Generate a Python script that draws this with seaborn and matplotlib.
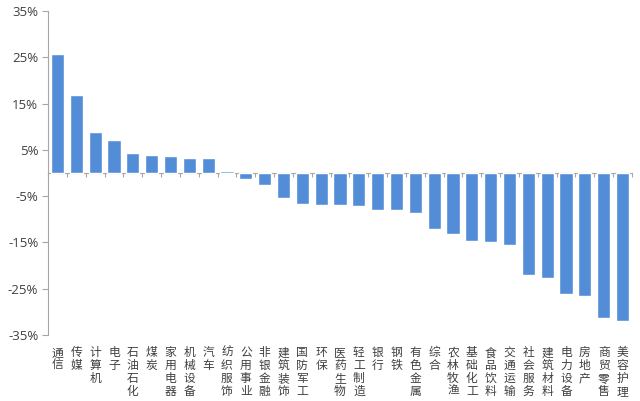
import numpy as np
import pandas as pd
import matplotlib
matplotlib.use("Agg")
import matplotlib.pyplot as plt
import matplotlib.transforms as mtransforms
import seaborn as sns

# --- DATA ---
categories = [
    "通信", "传媒", "计算机", "电子", "石油石化", "煤炭", "家用电器", "机械设备",
    "汽车", "纺织服饰", "公用事业", "非银金融", "建筑装饰", "国防军工", "环保",
    "医药生物", "轻工制造", "银行", "钢铁", "有色金属", "综合", "农林牧渔",
    "基础化工", "食品饮料", "交通运输", "社会服务", "建筑材料", "电力设备",
    "房地产", "商贸零售", "美容护理",
]
returns = [
    25.6, 16.8, 8.9, 7.1, 4.25, 3.95, 3.7, 3.25,
    3.2, 0.35, -1.2, -2.7, -5.4, -6.7, -7.0,
    -7.0, -7.2, -7.9, -8.1, -8.7, -12.2, -13.1,
    -14.7, -14.9, -15.6, -22.1, -22.7, -26.2,
    -26.5, -31.3, -32.0,
]
y_ticks = [-35, -25, -15, -5, 5, 15, 25, 35]

BAR_COLOR = "#538DD7"
AXIS_COLOR = "#A6A6A6"
TEXT_COLOR = "#404040"


def main():
    sns.set_style("white")
    plt.rcParams["font.family"] = ["Noto Sans CJK SC", "DejaVu Sans"]

    df = pd.DataFrame({"industry": categories, "ret": returns})

    fig = plt.figure(figsize=(6.4, 4.01), dpi=100)
    ax = fig.add_axes([0.075, 0.1646, 0.9125, 0.808])

    sns.barplot(data=df, x="industry", y="ret", color=BAR_COLOR,
                width=0.7, saturation=1, ax=ax, zorder=3)

    n = len(categories)
    ax.set_xlim(-0.5, n - 0.5)
    ax.set_ylim(-35, 35)
    ax.set_xlabel("")
    ax.set_ylabel("")

    # y axis
    ax.set_yticks(y_ticks)
    ax.set_yticklabels([f"{v}%" for v in y_ticks], fontsize=9.5,
                       color=TEXT_COLOR, family=["Open Sans", "DejaVu Sans"])
    ax.tick_params(axis="y", direction="out", length=4, width=0.8,
                   color=AXIS_COLOR, pad=3, left=True)

    # x axis sits at zero with small ticks between bars
    for s in ["top", "right"]:
        ax.spines[s].set_visible(False)
    ax.spines["left"].set_color(AXIS_COLOR)
    ax.spines["left"].set_linewidth(0.8)
    ax.spines["bottom"].set_position(("data", 0))
    ax.spines["bottom"].set_color(AXIS_COLOR)
    ax.spines["bottom"].set_linewidth(0.8)
    ax.spines["bottom"].set_zorder(2)
    ax.set_xticks(np.arange(n + 1) - 0.5, minor=True)
    ax.set_xticks(np.arange(n))
    ax.set_xticklabels([])
    ax.tick_params(axis="x", which="major", length=0)
    ax.tick_params(axis="x", which="minor", direction="out", length=3,
                   width=0.8, color=AXIS_COLOR, bottom=True)

    # vertical stacked labels below the plot
    trans = mtransforms.blended_transform_factory(ax.transData, ax.transAxes)
    for i, name in enumerate(categories):
        ax.text(i, -0.035, "\n".join(name), transform=trans, ha="center",
                va="top", fontsize=8.5, linespacing=0.98, color=TEXT_COLOR)

    fig.savefig("out.png", dpi=100, facecolor="white")


if __name__ == "__main__":
    main()
